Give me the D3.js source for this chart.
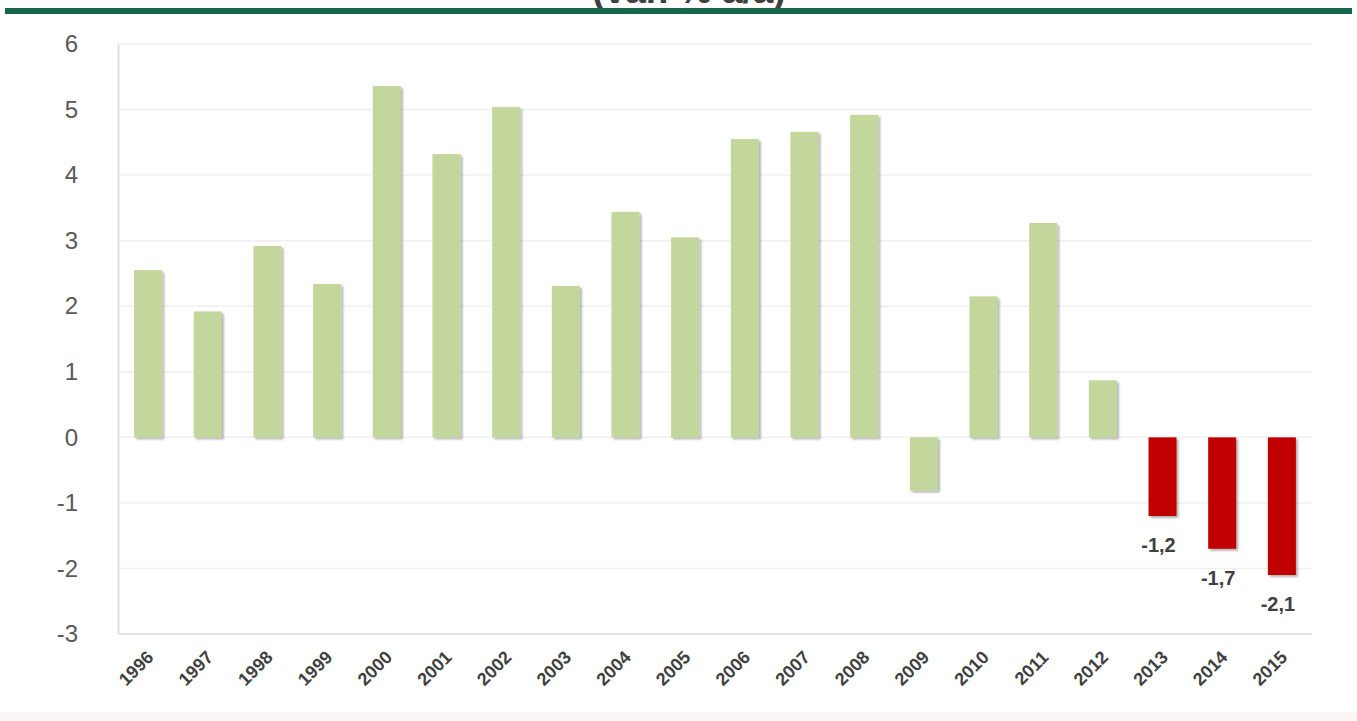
<!DOCTYPE html>
<html>
<head>
<meta charset="utf-8">
<script src="https://cdn.jsdelivr.net/npm/d3@7"></script>
<style>
  html, body { margin: 0; padding: 0; background: #ffffff; }
  svg { display: block; }
</style>
</head>
<body>
<svg id="chart" width="1357" height="721"></svg>
<script>
// Annual change, % a/a
const years = ["1996","1997","1998","1999","2000","2001","2002","2003","2004","2005",
               "2006","2007","2008","2009","2010","2011","2012","2013","2014","2015"];
const values = [2.55, 1.92, 2.92, 2.34, 5.36, 4.32, 5.04, 2.31, 3.44, 3.05,
                4.55, 4.66, 4.92, -0.81, 2.15, 3.27, 0.87, -1.2, -1.7, -2.1];
const forecastYears = ["2013","2014","2015"];
const yTicks = [-3, -2, -1, 0, 1, 2, 3, 4, 5, 6];
const titleText = "(var. % a/a)";

(function () {
  const svg = d3.select("#chart");
  const W = 1357;
  const plotLeft = 118, plotRight = 1312, plotTop = 44, plotBottom = 634;
  const font = "Liberation Sans, Arial, sans-serif";

  const x = d3.scaleBand().domain(years).range([plotLeft, plotRight]).paddingInner(0.53).paddingOuter(0.27);
  const y = d3.scaleLinear().domain([-3, 6]).range([plotBottom, plotTop]);

  // faint bottom tint
  svg.append("rect").attr("x", 0).attr("y", 712).attr("width", W).attr("height", 9).attr("fill", "#fdf5f5");

  // title (running above the top edge) and rule
  svg.append("text").attr("x", 689).attr("y", 3).attr("text-anchor", "middle")
    .attr("font-family", font).attr("font-size", 37)
    .attr("font-weight", "bold").attr("fill", "#404040").text(titleText);
  svg.append("rect").attr("x", 5).attr("y", 8).attr("width", 1347).attr("height", 6).attr("fill", "#17684a");

  // gridlines
  svg.append("g").selectAll("line").data(yTicks).join("line")
    .attr("x1", plotLeft).attr("x2", plotRight)
    .attr("y1", d => y(d)).attr("y2", d => y(d))
    .attr("stroke", d => d === -3 ? "#e2e2e2" : "#f0f0f0").attr("stroke-width", d => d === -3 ? 2 : 1.5);

  // y axis
  const yAxis = svg.append("g").attr("transform", `translate(${plotLeft},0)`)
    .call(d3.axisLeft(y).tickValues(yTicks).tickSize(0).tickPadding(40)
      .tickFormat(d => String(d)));
  yAxis.select(".domain").attr("stroke", "#e0e0e0").attr("stroke-width", 2);
  yAxis.selectAll("text").attr("font-family", font)
    .attr("font-size", 24).attr("fill", "#595959");

  // bars with a soft shadow
  const defs = svg.append("defs");
  const f = defs.append("filter").attr("id", "shadow").attr("x", "-30%").attr("y", "-10%").attr("width", "160%").attr("height", "130%");
  f.append("feDropShadow").attr("dx", 2).attr("dy", 2).attr("stdDeviation", 1.2)
    .attr("flood-color", "#000").attr("flood-opacity", 0.3);

  const isForecast = d => forecastYears.includes(d);
  svg.append("g").selectAll("rect").data(years).join("rect")
    .attr("x", d => x(d))
    .attr("width", x.bandwidth())
    .attr("y", (d, i) => y(Math.max(0, values[i])))
    .attr("height", (d, i) => Math.abs(y(values[i]) - y(0)))
    .attr("fill", d => isForecast(d) ? "#c00000" : "#c3d69b")
    .attr("filter", "url(#shadow)");

  // value labels on forecast bars
  const fmt = v => v.toFixed(1).replace(".", ",");
  svg.append("g").selectAll("text").data(years.filter(isForecast)).join("text")
    .attr("x", d => x(d) + x.bandwidth() / 2 - 4)
    .attr("y", d => y(values[years.indexOf(d)]) + 36)
    .attr("text-anchor", "middle")
    .attr("font-family", font).attr("font-size", 20).attr("font-weight", "bold")
    .attr("fill", "#404040")
    .text(d => fmt(values[years.indexOf(d)]));

  // rotated year labels
  svg.append("g").selectAll("text").data(years).join("text")
    .attr("transform", d => `translate(${x(d) + x.bandwidth() / 2 + 2},${plotBottom + 20}) rotate(-45)`)
    .attr("text-anchor", "end")
    .attr("dy", "0.35em")
    .attr("font-family", font).attr("font-size", 18).attr("font-weight", "bold")
    .attr("fill", "#404040")
    .text(d => d);
})();
</script>
</body>
</html>
